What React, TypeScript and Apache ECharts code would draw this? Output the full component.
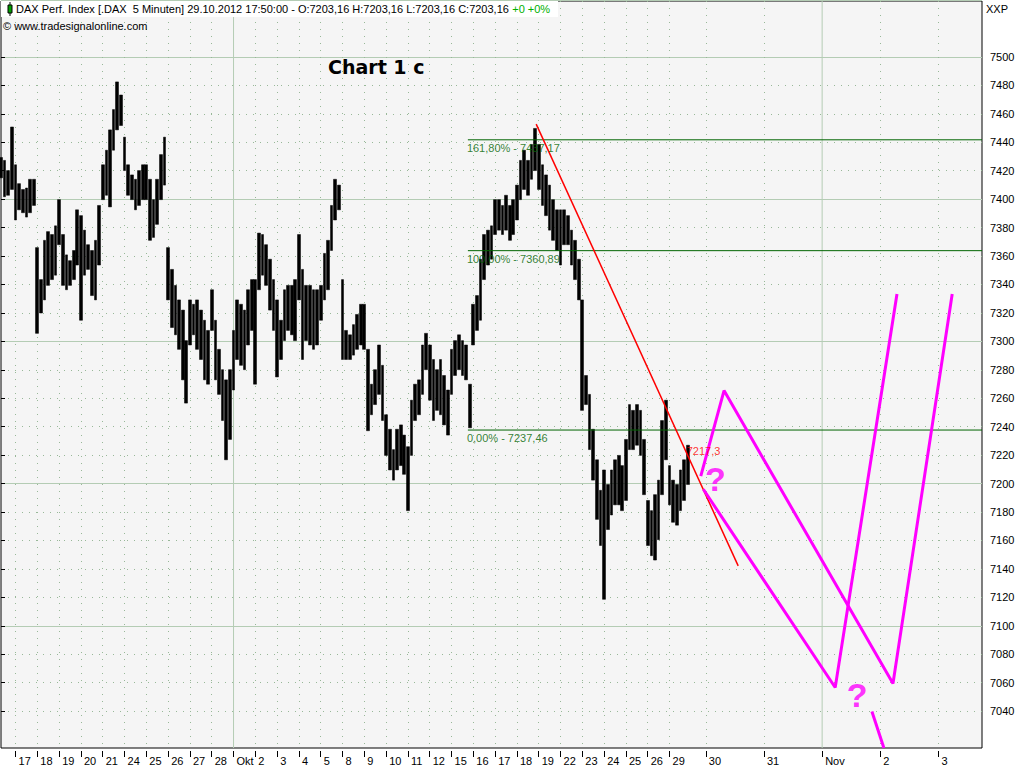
import React, { useEffect, useRef } from 'react';
import * as echarts from 'echarts';

// Day labels of the time axis (Sep 17 .. Nov 3, 2012)
const dayLabels = ['17','18','19','20','21','24','25','26','27','28','Okt','2','3','4','5','8','9','10','11','12','15','16','17','18','19','22','23','24','25','26','29','30','31','Nov','2','3'];

// Price range per time bin (6 bins per trading day, first 4 bins = 14 Sep afternoon)
const highs = [
  7425, 7423, 7416, 7446,
  7420, 7407, 7403, 7404, 7410, 7410,
  7363, 7341, 7368, 7374, 7372, 7378,
  7396, 7372, 7358, 7354, 7361, 7389,
  7385, 7375, 7365, 7361, 7368, 7392,
  7420, 7430, 7444, 7458, 7477, 7468,
  7439, 7420, 7413, 7410, 7416, 7420,
  7420, 7410, 7396, 7410, 7427, 7439,
  7363, 7348, 7337, 7327, 7320, 7299,
  7327, 7324, 7327, 7320, 7313, 7306,
  7334, 7313, 7293, 7279, 7272, 7279,
  7306, 7327, 7324, 7320, 7334, 7341,
  7341, 7373, 7372, 7365, 7355, 7341,
  7327, 7313, 7334, 7337, 7337, 7341,
  7372, 7348, 7337, 7337, 7334, 7334,
  7337, 7359, 7368, 7392, 7410, 7406,
  7341, 7306, 7303, 7310, 7317, 7324,
  7324, 7293, 7269, 7279, 7296, 7282,
  7248, 7238, 7224, 7238, 7241, 7234,
  7226, 7258, 7269, 7272, 7296, 7304,
  7296, 7286, 7279, 7286, 7275, 7265,
  7293, 7299, 7303, 7299, 7296, 7269,
  7324, 7330, 7355, 7372, 7375, 7378,
  7396, 7396, 7392, 7399, 7392, 7396,
  7406, 7423, 7430, 7423, 7434, 7445,
  7434, 7420, 7413, 7406, 7396, 7389,
  7389, 7389, 7385, 7375, 7368, 7355,
  7327, 7275, 7262, 7238, 7217, 7196,
  7210, 7200, 7210, 7217, 7220, 7213,
  7231, 7255, 7251, 7255, 7251, 7231,
  7189, 7182, 7193, 7203, 7244, 7258,
  7213, 7203, 7200, 7210, 7217, 7227,
];
const lows = [
  7411, 7398, 7399, 7403,
  7382, 7389, 7387, 7384, 7387, 7392,
  7304, 7318, 7327, 7337, 7341, 7344,
  7365, 7337, 7334, 7337, 7341, 7351,
  7313, 7344, 7348, 7330, 7327, 7351,
  7396, 7399, 7391, 7430, 7444, 7447,
  7416, 7399, 7396, 7389, 7392, 7396,
  7396, 7368, 7370, 7379, 7396, 7406,
  7327, 7308, 7303, 7293, 7272, 7256,
  7296, 7303, 7293, 7286, 7272, 7269,
  7306, 7272, 7262, 7244, 7217, 7231,
  7265, 7286, 7282, 7279, 7296, 7306,
  7269, 7334, 7344, 7337, 7320, 7306,
  7274, 7286, 7299, 7306, 7303, 7299,
  7327, 7286, 7299, 7296, 7293, 7296,
  7313, 7327, 7334, 7361, 7382, 7389,
  7286, 7286, 7286, 7289, 7293, 7296,
  7293, 7237, 7248, 7255, 7262, 7244,
  7220, 7210, 7203, 7210, 7213, 7207,
  7182, 7220, 7244, 7248, 7262, 7279,
  7258, 7244, 7251, 7248, 7241, 7234,
  7262, 7275, 7279, 7275, 7272, 7239,
  7296, 7306, 7313, 7341, 7351, 7355,
  7372, 7375, 7372, 7375, 7368, 7372,
  7382, 7396, 7403, 7399, 7410, 7416,
  7403, 7392, 7385, 7375, 7368, 7361,
  7351, 7365, 7365, 7351, 7341, 7327,
  7251, 7255, 7224, 7203, 7176, 7158,
  7121, 7169, 7179, 7186, 7186, 7182,
  7189, 7224, 7224, 7227, 7220, 7193,
  7158, 7151, 7148, 7162, 7193, 7217,
  7186, 7174, 7172, 7182, 7189, 7200,
];

const fibLevels = [7437.17, 7360.89, 7237.46];
const fibNames = ['161,80%', '100,00%', '0,00%'];
const fibStart = 128.5;
const trendLine = [[147.3, 7448], [202.9, 7144]];
const trendValue = 7217.3;
const projectionA = [[192.6, 7205.8], [199, 7264.6], [245.5, 7063], [261.8, 7331.1]];
const projectionB = [[193.3, 7196.7], [229.6, 7060.3], [246.6, 7331.1]];
const projectionTail = [[239.7, 7043.8], [243, 7018.7]];
const questionMarks = [[196.9, 7203.1], [235.9, 7054.8]];

const Y_MIN = 7018.68;
const Y_MAX = 7532.68;
const FONT = 'Liberation Sans, Arial, sans-serif';
const MAGENTA = '#ff00ff';
const FIB_GREEN = '#006400';

export default function App() {
  const ref = useRef<HTMLDivElement>(null);
  useEffect(() => {
    const categories: string[] = [];
    const dayStart = new Map<number, string>();
    for (let i = 0; i < 4; i++) categories.push('14#' + i);
    dayLabels.forEach((d, k) => {
      const n = k < 30 ? 6 : k === 30 ? 10 : k < 35 ? 16 : 13;
      dayStart.set(categories.length, d);
      for (let j = 0; j < n; j++) categories.push(d + '#' + k + '-' + j);
    });
    const lastIdx = categories.length - 1;
    const monthIdx: number[] = [];
    dayStart.forEach((v, k) => { if (v === 'Okt' || v === 'Nov') monthIdx.push(k); });

    const candles = highs.map((h, i) => [lows[i], h, lows[i], h]);
    const fmt = (v: number) => v.toFixed(2).replace('.', ',');
    const noSymbol = { color: 'rgba(0,0,0,0)', borderWidth: 0 };

    const chart = echarts.init(ref.current!, null, { renderer: 'svg' });
    const option: any = {
      animation: false,
      backgroundColor: '#ffffff',
      textStyle: { fontFamily: FONT },
      grid: [
        { left: 1, right: 42, top: 1, bottom: 20, show: true, backgroundColor: '#f5f5f5', borderColor: '#000', borderWidth: 1 },
        { left: 1, right: 42, top: -9.63, bottom: -7.15, show: false },
      ],
      xAxis: [
        {
          type: 'category', gridIndex: 0, data: categories, boundaryGap: false, offset: 3,
          axisLine: { show: false },
          axisTick: { show: true, length: 6, interval: (i: number) => dayStart.has(i), lineStyle: { color: '#000' } },
          axisLabel: {
            interval: (i: number) => dayStart.has(i),
            formatter: (_v: string, i: number) => dayStart.get(i) ?? '',
            align: 'left', padding: [0, 0, 0, 3], margin: 4, fontSize: 11, color: '#000', fontFamily: FONT,
          },
          splitLine: {
            show: true,
            interval: (i: number) => dayStart.has(i) && !monthIdx.includes(i),
            lineStyle: { color: '#98b898', type: [1, 6], width: 1 },
          },
        },
        { type: 'value', gridIndex: 0, min: 0, max: lastIdx, show: false },
        { type: 'value', gridIndex: 1, min: 0, max: 1, show: false },
      ],
      yAxis: [
        { type: 'value', gridIndex: 0, min: Y_MIN, max: Y_MAX, show: false, splitLine: { show: false } },
        {
          type: 'value', gridIndex: 1, min: 7000, max: 7540, interval: 20, position: 'right', offset: 3,
          axisLine: { show: false },
          axisTick: { show: true, length: 4, lineStyle: { color: '#000' }, customValues: [7040,7060,7080,7100,7120,7140,7160,7180,7200,7220,7240,7260,7280,7300,7320,7340,7360,7380,7400,7420,7440,7460,7480,7500] },
          axisLabel: {
            margin: 5, fontSize: 11, color: '#000', fontFamily: FONT,
            formatter: (v: number) => (v >= 7040 && v <= 7500 ? String(v) : ''),
          },
          splitLine: { show: true, lineStyle: { color: '#98b898', type: [1, 6], width: 1 } },
        },
        {
          type: 'value', gridIndex: 1, min: 7000, max: 7540, interval: 100, position: 'right',
          axisLine: { show: false }, axisTick: { show: false }, axisLabel: { show: false },
          splitLine: { show: true, lineStyle: { color: '#b4ccb4', type: 'solid', width: 1 } },
        },
      ],
      series: [
        ...monthIdx.map((m) => ({
          type: 'line', xAxisIndex: 1, yAxisIndex: 0, z: 1, symbol: 'none', silent: true,
          lineStyle: { color: '#b4ccb4', width: 1 },
          data: [[m, Y_MIN], [m, Y_MAX]],
        })),
        {
          type: 'candlestick', xAxisIndex: 0, yAxisIndex: 0, barWidth: 3.2,
          itemStyle: { color: '#000', color0: '#000', borderColor: '#000', borderColor0: '#000', borderWidth: 0.5 },
          data: candles,
        },
        ...fibLevels.map((lv) => ({
          type: 'line', xAxisIndex: 1, yAxisIndex: 0, symbol: 'none', silent: true,
          lineStyle: { color: FIB_GREEN, width: 1 },
          data: [[fibStart, lv], [lastIdx, lv]],
        })),
        {
          type: 'line', xAxisIndex: 1, yAxisIndex: 0, symbol: 'none', silent: true,
          lineStyle: { color: '#ff0000', width: 1.5 },
          data: trendLine,
        },
        ...[projectionA, projectionB, projectionTail].map((p) => ({
          type: 'line', xAxisIndex: 1, yAxisIndex: 0, symbol: 'none', silent: true,
          lineStyle: { color: MAGENTA, width: 3 },
          data: p,
        })),
        {
          type: 'scatter', xAxisIndex: 1, yAxisIndex: 0, symbolSize: 2, silent: true, z: 5,
          itemStyle: noSymbol,
          label: { show: true, position: [0, 0], align: 'left', verticalAlign: 'middle', fontSize: 11, fontFamily: FONT },
          data: [
            ...fibLevels.map((lv, i) => ({
              value: [fibStart, lv],
              label: { show: true, formatter: fibNames[i] + ' - ' + fmt(lv), color: FIB_GREEN, offset: [0, 9] },
            })),
            {
              value: [189, trendValue],
              label: { show: true, formatter: String(trendValue).replace('.', ','), color: '#ff0000', offset: [0, -7] },
            },
          ],
        },
        {
          type: 'scatter', xAxisIndex: 1, yAxisIndex: 0, symbolSize: 2, silent: true, z: 5,
          itemStyle: noSymbol,
          label: { show: true, position: [0, 0], align: 'center', verticalAlign: 'middle', formatter: '?', fontSize: 34, fontWeight: 'bold', color: MAGENTA, fontFamily: FONT },
          data: questionMarks,
        },
      ],
      graphic: [
        { type: 'rect', z: 10, shape: { x: 1, y: 1, width: 557, height: 16 }, style: { fill: '#ffffff' } },
        { type: 'line', z: 11, shape: { x1: 10, y1: 2, x2: 10, y2: 16 }, style: { stroke: '#000', lineWidth: 1 } },
        { type: 'rect', z: 12, shape: { x: 8, y: 5, width: 4, height: 8 }, style: { fill: '#00a000', stroke: '#000', lineWidth: 1 } },
        {
          type: 'text', z: 12, x: 16, y: 9,
          style: {
            text: '{a|DAX Perf. Index [.DAX  5 Minuten] 29.10.2012 17:50:00 - O:7203,16 H:7203,16 L:7203,16 C:7203,16} {g|+0 +0%}',
            verticalAlign: 'middle',
            rich: {
              a: { fontSize: 11, fontFamily: FONT, fill: '#000', color: '#000' },
              g: { fontSize: 11, fontFamily: FONT, fill: '#00b000', color: '#00b000' },
            },
          },
        },
        { type: 'text', z: 12, x: 3, y: 26, style: { text: '© www.tradesignalonline.com', fontSize: 11, fontFamily: FONT, fill: '#000', verticalAlign: 'middle' } },
        { type: 'text', z: 12, x: 328, y: 67, style: { text: 'Chart 1 c', fontSize: 19, fontWeight: 'bold', fontFamily: 'DejaVu Sans, sans-serif', fill: '#000', verticalAlign: 'middle' } },
        { type: 'text', z: 12, x: 986, y: 9, style: { text: 'XXP', fontSize: 11, fontFamily: FONT, fill: '#000', verticalAlign: 'middle' } },
      ],
    };
    chart.setOption(option);
    return () => chart.dispose();
  }, []);
  return <div ref={ref} style={{ position: 'absolute', left: 0, top: 0, width: 1024, height: 768, background: '#fff' }} />;
}
